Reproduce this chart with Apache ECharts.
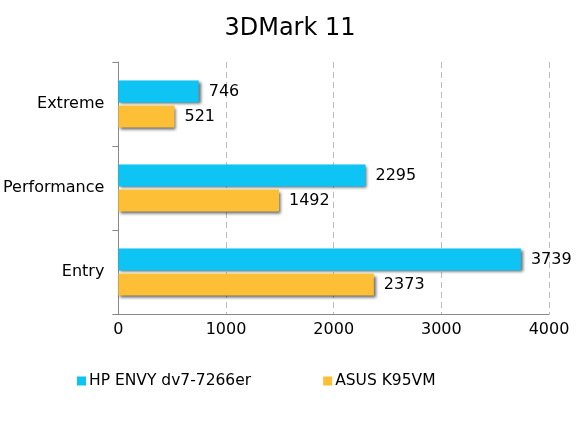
<!DOCTYPE html>
<html><head><meta charset="utf-8">
<script src="https://cdn.jsdelivr.net/npm/echarts@6/dist/echarts.min.js"></script>
<style>html,body{margin:0;padding:0;background:#fff}#c{width:580px;height:426px}</style>
</head><body><div id="c"></div>
<script>
const categories = ['Extreme', 'Performance', 'Entry'];
const hpValues = [746, 2295, 3739];
const asusValues = [521, 1492, 2373];
const seriesNames = ['HP ENVY dv7-7266er', 'ASUS K95VM'];
const xTicks = [0, 1000, 2000, 3000, 4000];

const font = '"DejaVu Sans", Verdana, sans-serif';
const chart = echarts.init(document.getElementById('c'));
const shadow = {shadowColor: 'rgba(0,0,0,0.6)', shadowBlur: 3, shadowOffsetX: 2, shadowOffsetY: 2};
chart.setOption({
  animation: false,
  title: {text: '3DMark 11', left: 'center', top: 12,
    textStyle: {fontFamily: font, fontSize: 24, fontWeight: 'normal', color: '#000'}},
  legend: {left: 72, top: 368, itemWidth: 9, itemHeight: 9, itemGap: 72, icon: 'rect',
    textStyle: {fontFamily: font, fontSize: 15.5, color: '#000', padding: [0,0,0,-2]},
    data: seriesNames},
  grid: {left: 118, right: 31, top: 62, bottom: 112, containLabel: false},
  xAxis: {type: 'value', min: xTicks[0], max: xTicks[xTicks.length-1], interval: 1000,
    axisLine: {show: true, lineStyle: {color: '#888'}},
    axisTick: {show: false},
    axisLabel: {fontFamily: font, fontSize: 16, color: '#000', margin: 8, formatter: v => String(v)},
    splitLine: {show: true, lineStyle: {color: '#bbb', type: [6, 4]}}},
  yAxis: {type: 'category', data: categories, inverse: true,
    axisLine: {show: true, lineStyle: {color: '#888'}},
    axisTick: {show: true, length: 6, lineStyle: {color: '#888'}},
    axisLabel: {fontFamily: font, fontSize: 16, color: '#000', margin: 14}},
  series: [
    {name: seriesNames[0], type: 'bar', data: hpValues, barWidth: 22, barGap: '14%', barCategoryGap: '44%',
      itemStyle: Object.assign({color: '#0DC4F4'}, shadow),
      label: {show: true, position: 'right', distance: 10, fontFamily: font, fontSize: 16, color: '#000'}},
    {name: seriesNames[1], type: 'bar', data: asusValues, barWidth: 22, barGap: '14%', barCategoryGap: '44%',
      itemStyle: Object.assign({color: '#FDBF35'}, shadow),
      label: {show: true, position: 'right', distance: 10, fontFamily: font, fontSize: 16, color: '#000'}}
  ]
});
</script></body></html>
